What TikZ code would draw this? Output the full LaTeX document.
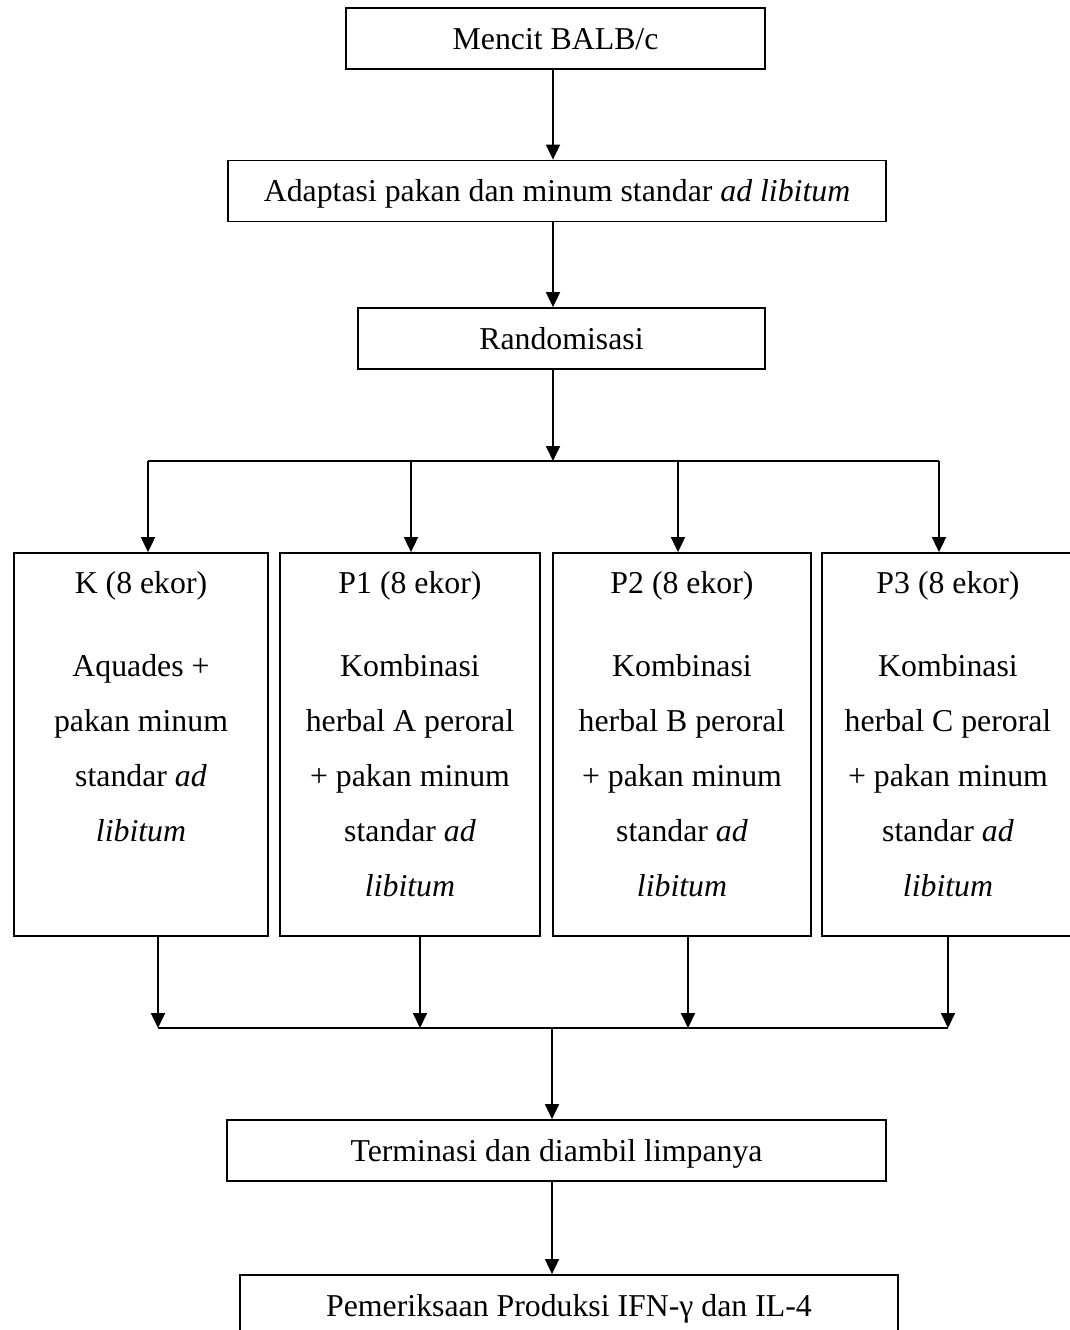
\documentclass[tikz,border=0pt]{standalone}
\usepackage{fontspec}
\setmainfont{Liberation Serif}
\usetikzlibrary{arrows.meta}
\newcommand\colbody[1]{\parbox[t]{250pt}{\centering\fontsize{31.8}{55}\selectfont #1}}
\begin{document}
\begin{tikzpicture}[x=1pt,y=-1pt,
  every node/.style={font=\fontsize{31.8}{38}\selectfont},
  line/.style={line width=1.8pt},
  arr/.style={line width=1.8pt,-{Triangle[length=15pt,width=14pt]}},
  onebox/.style={draw,line width=1.8pt,inner sep=0pt,text height=21pt,text depth=0pt,minimum height=61pt},
  colbox/.style={draw,line width=1.8pt,inner sep=0pt,minimum height=383pt},
  coltext/.style={inner sep=0pt,anchor=base}]
\useasboundingbox (0,0) rectangle (1069,1330);
% main boxes
\node[onebox,minimum width=419pt] (b1) at (555.5,38.5) {Mencit BALB/c};
\node[onebox,minimum width=658pt] (b2) at (557,191) {Adaptasi pakan dan minum standar \textit{ad libitum}};
\node[onebox,minimum width=407pt] (b3) at (561.5,338.5) {Randomisasi};
\node[onebox,minimum width=659pt] (term) at (556.5,1150.5) {Terminasi dan diambil limpanya};
\node[onebox,minimum width=658pt] (last) at (569,1305.5) {Pemeriksaan Produksi IFN-γ dan IL-4};
% column boxes
\node[colbox,minimum width=254pt] (K) at (141,744.5) {};
\node[colbox,minimum width=260pt] (P1) at (410,744.5) {};
\node[colbox,minimum width=258pt] (P2) at (682,744.5) {};
\node[colbox,minimum width=252pt] (P3) at (948,744.5) {};
% column texts
\node[coltext] (Kh) at (141,593) {K (8 ekor)};
\node[coltext] (P1h) at (410,593) {P1 (8 ekor)};
\node[coltext] (P2h) at (682,593) {P2 (8 ekor)};
\node[coltext] (P3h) at (948,593) {P3 (8 ekor)};
\node[coltext] (Kb) at (141,676) {\colbody{Aquades +\\pakan minum\\standar \textit{ad}\\\textit{libitum}}};
\node[coltext] (P1b) at (410,676) {\colbody{Kombinasi\\herbal A peroral\\+ pakan minum\\standar \textit{ad}\\\textit{libitum}}};
\node[coltext] (P2b) at (682,676) {\colbody{Kombinasi\\herbal B peroral\\+ pakan minum\\standar \textit{ad}\\\textit{libitum}}};
\node[coltext] (P3b) at (948,676) {\colbody{Kombinasi\\herbal C peroral\\+ pakan minum\\standar \textit{ad}\\\textit{libitum}}};
% junction coordinates
\coordinate (ax) at (553,0);
\coordinate (sc) at (553,461);
\coordinate (s1) at (148,461);
\coordinate (s2) at (411,461);
\coordinate (s3) at (678,461);
\coordinate (s4) at (939,461);
\coordinate (jc) at (552,1028);
\coordinate (j1) at (158,1028);
\coordinate (j2) at (420,1028);
\coordinate (j3) at (688,1028);
\coordinate (j4) at (948,1028);
% connectors
\draw[arr] (b1.south -| ax) -- (b2.north -| ax);
\draw[arr] (b2.south -| ax) -- (b3.north -| ax);
\draw[arr] (b3.south -| sc) -- (sc);
\draw[line] (s1) -- (s4);
\draw[arr] (s1) -- (s1 |- K.north);
\draw[arr] (s2) -- (s2 |- P1.north);
\draw[arr] (s3) -- (s3 |- P2.north);
\draw[arr] (s4) -- (s4 |- P3.north);
\draw[arr] (K.south -| j1) -- (j1);
\draw[arr] (P1.south -| j2) -- (j2);
\draw[arr] (P2.south -| j3) -- (j3);
\draw[arr] (P3.south -| j4) -- (j4);
\draw[line] (j1) -- (j4);
\draw[arr] (jc) -- (term.north -| jc);
\draw[arr] (term.south -| jc) -- (last.north -| jc);
\end{tikzpicture}
\end{document}
